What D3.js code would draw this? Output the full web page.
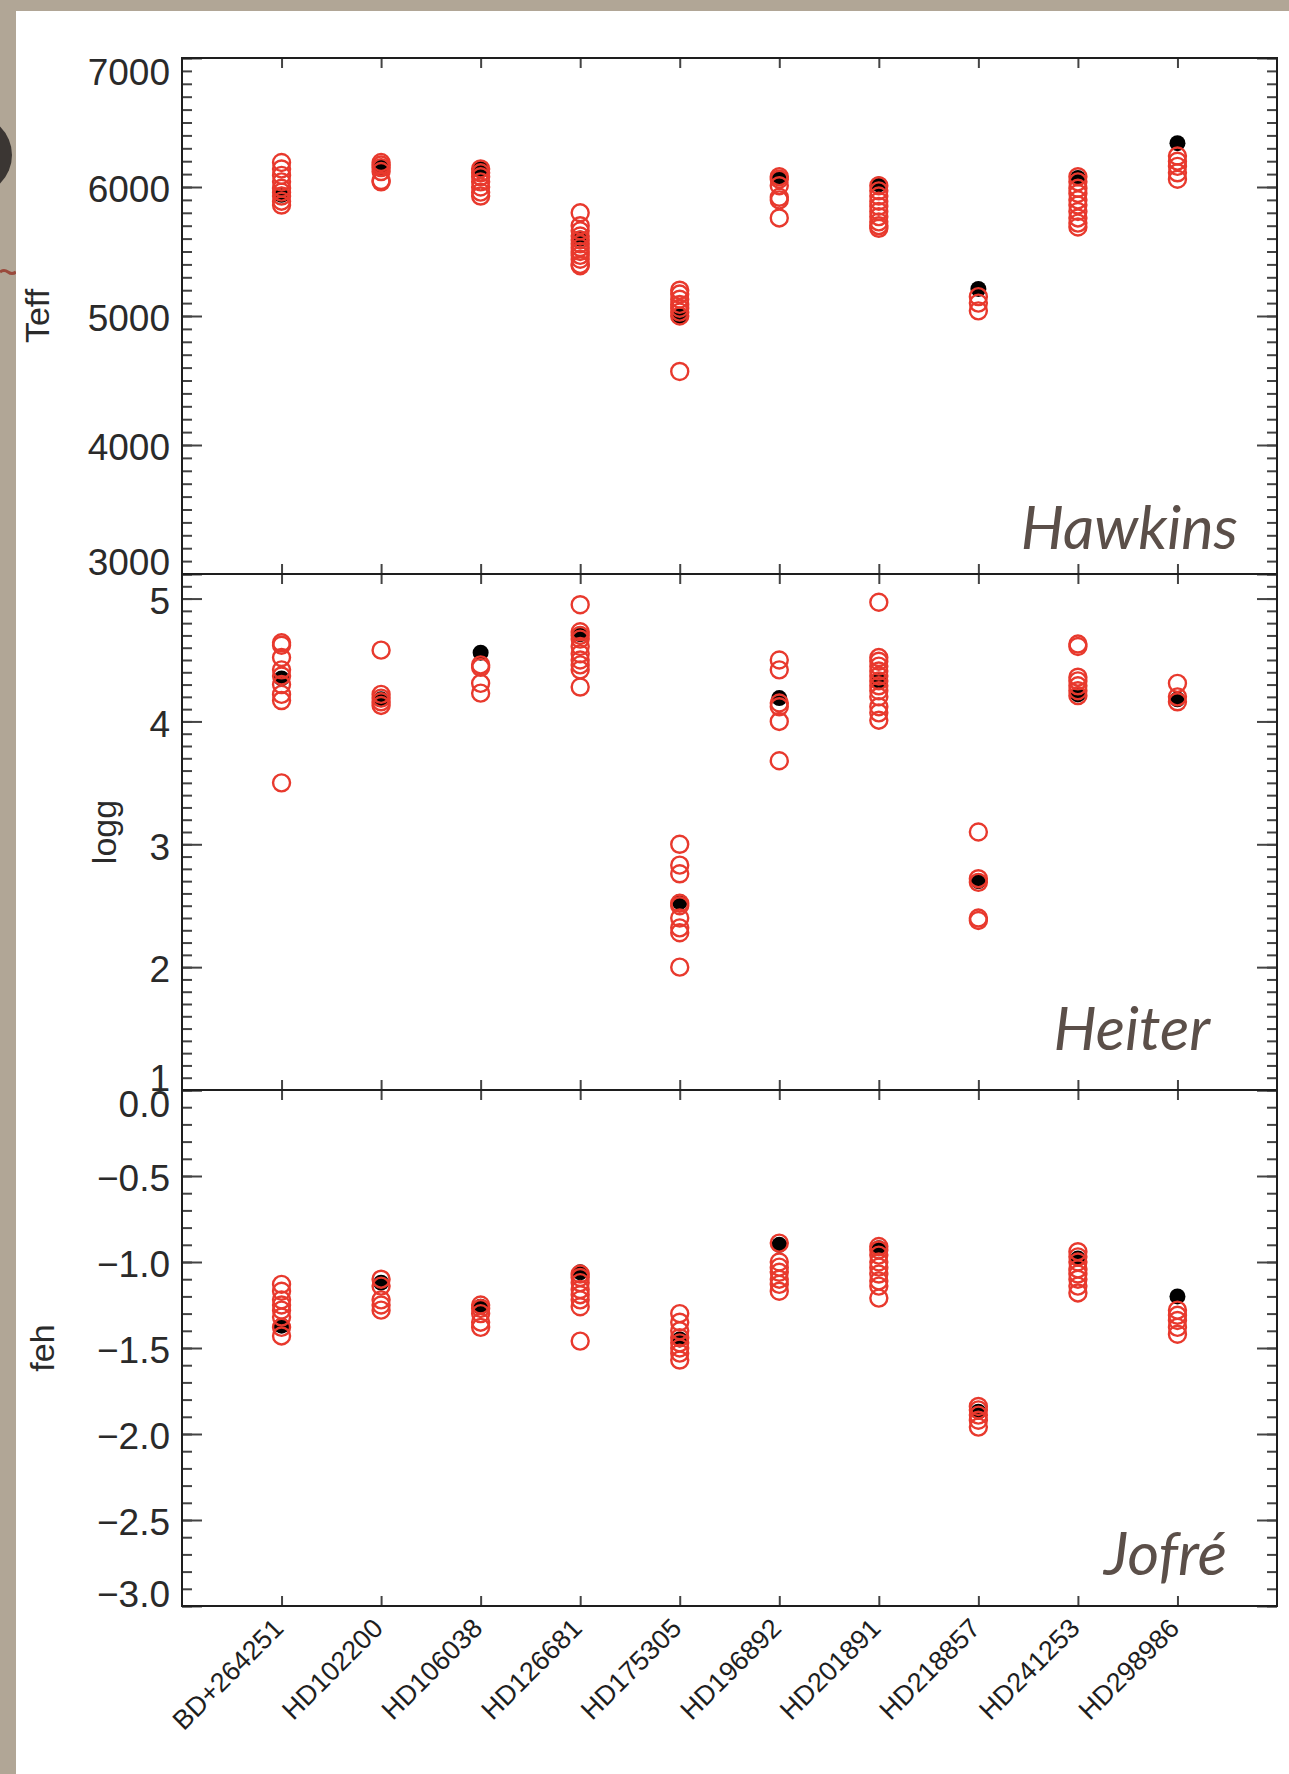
<!DOCTYPE html>
<html>
<head>
<meta charset="utf-8">
<script src="https://cdn.jsdelivr.net/npm/d3@7"></script>
<style>
  html, body { margin: 0; padding: 0; background: #b1a696; }
  svg { display: block; }
</style>
</head>
<body>
<svg id="chart" width="1289" height="1774"></svg>
<script>
// ---------- DATA ----------
const stars = ["BD+264251","HD102200","HD106038","HD126681","HD175305","HD196892","HD201891","HD218857","HD241253","HD298986"];

const teffTicks = [3000, 4000, 5000, 6000, 7000];
const loggTicks = [1, 2, 3, 4, 5];
const fehTicks  = [-3.0, -2.5, -2.0, -1.5, -1.0, -0.5, 0.0];

// reference values (black filled)
const teffRef = [5940, 6150, 6140, 5600, 5000, 6070, 6020, 5210, 6070, 6340];
const loggRef = [4.35, 4.18, 4.56, 4.71, 2.53, 4.19, 4.33, 2.70, 4.22, 4.18];
const fehRef  = [-1.37, -1.12, -1.26, -1.06, -1.45, -0.90, -0.92, -1.87, -0.98, -1.20];

// individual determinations (red open circles)
const teffVals = [
  [6190, 6140, 6090, 6040, 5990, 5960, 5930, 5890, 5860],
  [6190, 6170, 6150, 6120, 6050, 6040],
  [6140, 6110, 6080, 6040, 6000, 5960, 5930],
  [5800, 5700, 5660, 5620, 5590, 5560, 5530, 5500, 5470, 5440, 5400, 5390],
  [5200, 5170, 5130, 5090, 5060, 5030, 5000, 4570],
  [6080, 6060, 6010, 5920, 5900, 5760],
  [6010, 5970, 5930, 5890, 5850, 5810, 5770, 5730, 5700, 5680],
  [5150, 5100, 5040],
  [6080, 6040, 5990, 5950, 5900, 5860, 5810, 5760, 5720, 5690],
  [6240, 6200, 6160, 6110, 6060]
];
const loggVals = [
  [4.64, 4.62, 4.52, 4.42, 4.37, 4.30, 4.22, 4.17, 3.50],
  [4.58, 4.22, 4.19, 4.16, 4.13],
  [4.46, 4.44, 4.31, 4.23],
  [4.95, 4.73, 4.70, 4.67, 4.61, 4.55, 4.50, 4.46, 4.42, 4.28],
  [3.00, 2.83, 2.76, 2.52, 2.50, 2.40, 2.32, 2.28, 2.00],
  [4.50, 4.42, 4.15, 4.12, 4.00, 3.68],
  [4.97, 4.52, 4.49, 4.45, 4.41, 4.37, 4.33, 4.29, 4.25, 4.20, 4.12, 4.07, 4.01],
  [3.10, 2.72, 2.69, 2.40, 2.38],
  [4.63, 4.61, 4.36, 4.33, 4.29, 4.25, 4.21],
  [4.31, 4.20, 4.16]
];
const fehVals = [
  [-1.13, -1.17, -1.22, -1.25, -1.28, -1.32, -1.38, -1.43],
  [-1.10, -1.14, -1.22, -1.25, -1.28],
  [-1.25, -1.27, -1.30, -1.35, -1.38],
  [-1.07, -1.09, -1.12, -1.16, -1.19, -1.22, -1.26, -1.46],
  [-1.30, -1.35, -1.40, -1.44, -1.47, -1.50, -1.53, -1.57],
  [-0.89, -1.00, -1.03, -1.06, -1.10, -1.13, -1.17],
  [-0.91, -0.93, -0.96, -1.00, -1.03, -1.07, -1.11, -1.14, -1.21],
  [-1.84, -1.86, -1.89, -1.92, -1.96],
  [-0.94, -0.97, -1.00, -1.04, -1.07, -1.10, -1.14, -1.18],
  [-1.28, -1.31, -1.34, -1.38, -1.42]
];

const panelNames = ["Hawkins", "Heiter", "Jofré"];
const axisTitles = ["Teff", "logg", "feh"];

// ---------- LAYOUT ----------
const svg = d3.select("#chart");
const W = 1289, H = 1774;
const left = 182, right = 1277;
const panelTop = [58, 574, 1090];
const panelH = 516;

// paper background + white slide
svg.append("rect").attr("x", 0).attr("y", 0).attr("width", W).attr("height", H).attr("fill", "#b1a696");
svg.append("circle").attr("cx", -28).attr("cy", 155).attr("r", 40).attr("fill", "#3b3633");
svg.append("path").attr("d", "M0,272 q4,-3 8,0 t8,0").attr("stroke", "#9a4a3c").attr("stroke-width", 3).attr("fill", "none");
svg.append("rect").attr("x", 16).attr("y", 11).attr("width", W - 16).attr("height", H - 11).attr("fill", "#ffffff");

const x = d3.scaleLinear().domain([0, 11]).range([left, right]);

const panels = [
  { domain: [3000, 7000], ticks: teffTicks, minor: 100, fmt: d3.format("d"), ref: teffRef, vals: teffVals },
  { domain: [1, 5.2],     ticks: loggTicks, minor: 0.1, fmt: d3.format("d"), ref: loggRef, vals: loggVals },
  { domain: [-3, 0],      ticks: fehTicks,  minor: 0.1, fmt: v => d3.format(".1f")(v).replace("-", "\u2212"), ref: fehRef, vals: fehVals }
];

const labelPos = [
  { x: 1238, y: 549 },
  { x: 1210, y: 1050 },
  { x: 1227, y: 1575 }
];
const titleX = [37, 104, 42];

const tickColor = "#444";
const frameColor = "#1e1e1e";

panels.forEach((p, k) => {
  const top = panelTop[k];
  const y = d3.scaleLinear().domain(p.domain).range([top + panelH, top]);
  const g = svg.append("g");

  const nMin = Math.round((p.domain[1] - p.domain[0]) / p.minor);
  const minorVals = d3.range(nMin + 1).map(i => +(p.domain[0] + i * p.minor).toFixed(4));

  g.append("g").attr("transform", `translate(${left},0)`)
    .call(d3.axisLeft(y).tickValues(minorVals).tickSize(-10).tickSizeOuter(0).tickFormat(""))
    .call(a => a.select(".domain").remove())
    .call(a => a.selectAll("line").attr("stroke", tickColor).attr("stroke-width", 2));
  g.append("g").attr("transform", `translate(${right},0)`)
    .call(d3.axisRight(y).tickValues(minorVals).tickSize(-10).tickSizeOuter(0).tickFormat(""))
    .call(a => a.select(".domain").remove())
    .call(a => a.selectAll("line").attr("stroke", tickColor).attr("stroke-width", 2));
  const la = g.append("g").attr("transform", `translate(${left},0)`)
    .call(d3.axisLeft(y).tickValues(p.ticks).tickSize(-20).tickSizeOuter(0).tickPadding(12).tickFormat(p.fmt))
    .call(a => a.select(".domain").remove())
    .call(a => a.selectAll("line").attr("stroke", tickColor).attr("stroke-width", 2));
  la.selectAll("text")
    .attr("font-family", "'Liberation Sans', Arial, sans-serif")
    .attr("font-size", 37)
    .attr("fill", "#2a2a2a")
    .attr("dy", d => {
      if (Math.abs(d - p.domain[1]) < 1e-9) return "0.72em";
      if (Math.abs(d - p.domain[0]) < 1e-9) return "0em";
      return "0.4em";
    });
  g.append("g").attr("transform", `translate(${right},0)`)
    .call(d3.axisRight(y).tickValues(p.ticks).tickSize(-20).tickSizeOuter(0).tickFormat(""))
    .call(a => a.select(".domain").remove())
    .call(a => a.selectAll("line").attr("stroke", tickColor).attr("stroke-width", 2));

  const cats = d3.range(1, stars.length + 1);
  g.append("g").attr("transform", `translate(0,${top})`)
    .call(d3.axisTop(x).tickValues(cats).tickSize(-10).tickSizeOuter(0).tickFormat(""))
    .call(a => a.select(".domain").remove())
    .call(a => a.selectAll("line").attr("stroke", tickColor).attr("stroke-width", 2));
  const xb = g.append("g").attr("transform", `translate(0,${top + panelH})`)
    .call(d3.axisBottom(x).tickValues(cats).tickSize(-10).tickSizeOuter(0)
      .tickFormat(k === 2 ? (d => stars[d - 1]) : ""))
    .call(a => a.select(".domain").remove())
    .call(a => a.selectAll("line").attr("stroke", tickColor).attr("stroke-width", 2));
  if (k === 2) {
    xb.selectAll("text")
      .attr("font-family", "'Liberation Sans', Arial, sans-serif")
      .attr("font-size", 27)
      .attr("fill", "#1e1e1e")
      .attr("text-anchor", "end")
      .attr("dy", 0)
      .attr("y", 0)
      .attr("transform", "translate(3,24) rotate(-45)");
  }

  g.append("rect").attr("x", left).attr("y", top).attr("width", right - left).attr("height", panelH)
    .attr("fill", "none").attr("stroke", frameColor).attr("stroke-width", 2);

  g.append("text")
    .attr("transform", `translate(${titleX[k]},${top + panelH / 2}) rotate(-90)`)
    .attr("text-anchor", "middle")
    .attr("dominant-baseline", "central")
    .attr("font-family", "'Liberation Sans', Arial, sans-serif")
    .attr("font-size", 34)
    .attr("fill", "#2a2a2a")
    .text(axisTitles[k]);

  const pts = g.append("g");
  pts.selectAll("circle.ref").data(p.ref).join("circle")
    .attr("class", "ref")
    .attr("cx", (d, i) => x(i + 1))
    .attr("cy", d => y(d))
    .attr("r", 8)
    .attr("fill", "#000");
  const flat = [];
  p.vals.forEach((arr, i) => arr.forEach(v => flat.push({ i, v })));
  pts.selectAll("circle.val").data(flat).join("circle")
    .attr("class", "val")
    .attr("cx", d => x(d.i + 1))
    .attr("cy", d => y(d.v))
    .attr("r", 8.5)
    .attr("fill", "none")
    .attr("stroke", "#e8392d")
    .attr("stroke-width", 2.4);

  g.append("text")
    .attr("x", labelPos[k].x)
    .attr("y", labelPos[k].y)
    .attr("text-anchor", "end")
    .attr("font-family", "Lato, 'Open Sans', sans-serif")
    .attr("font-style", "italic")
    .attr("font-size", 61)
    .attr("fill", "#5b4f49")
    .text(panelNames[k]);
});
</script>
</body>
</html>
